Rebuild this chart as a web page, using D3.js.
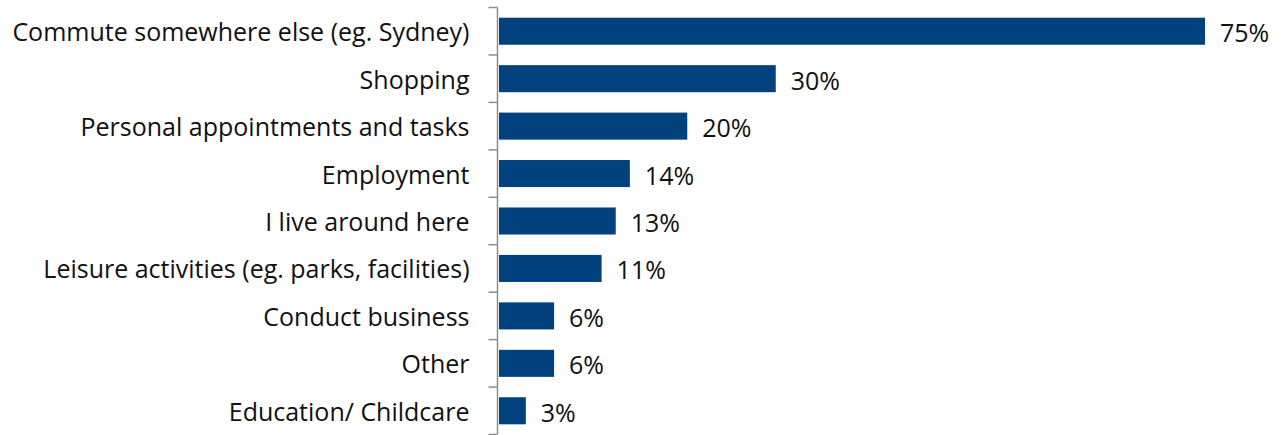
<!DOCTYPE html>
<html><head><meta charset="utf-8">
<script src="https://cdn.jsdelivr.net/npm/d3@7"></script>
<style>body{margin:0;background:#fff;} svg{display:block;font-family:"Open Sans","Noto Sans",sans-serif;}</style>
</head><body>
<svg id="c" width="1282" height="435"></svg>
<script>
const categories = ["Commute somewhere else (eg. Sydney)","Shopping","Personal appointments and tasks","Employment","I live around here","Leisure activities (eg. parks, facilities)","Conduct business","Other","Education/ Childcare"];
const values = [75, 29.4, 20.0, 13.9, 12.4, 10.9, 5.85, 5.85, 2.85];
const valueLabels = ["75%","30%","20%","14%","13%","11%","6%","6%","3%"];

const svg = d3.select("#c");
const x0 = 499;
const x = d3.scaleLinear().domain([0, 75]).range([x0, 1205]);
const y = d3.scaleBand().domain(categories).range([7.5, 434.5]).paddingInner(0.43).paddingOuter(0.215);
const fs = 25;

// bars
svg.selectAll("rect.bar").data(categories).join("rect")
  .attr("x", x(0)).attr("y", d => y(d))
  .attr("width", (d,i) => x(values[i]) - x(0))
  .attr("height", y.bandwidth())
  .attr("fill", "#00417e");

// value labels
svg.selectAll("text.val").data(categories).join("text")
  .attr("x", (d,i) => x(values[i]) + 15)
  .attr("y", d => y(d) + y.bandwidth()/2)
  .attr("dy", "0.44em")
  .attr("font-size", fs).attr("fill", "#111")
  .text((d,i) => valueLabels[i]);

// axis with category labels
const axisX = 497.5;
const ax = svg.append("g").attr("transform", `translate(${axisX},0)`)
  .call(d3.axisLeft(y).tickSize(0).tickPadding(28));
ax.select(".domain").remove();
ax.selectAll("text").attr("font-size", fs).attr("fill", "#111").attr("font-family", '"Open Sans","Noto Sans",sans-serif').attr("dy","0.4em");

// axis line and boundary ticks
const step = y.step();
const r = y.range();
const bounds = d3.range(categories.length + 1).map(i => r[0] + i * step);
svg.append("line").attr("x1", axisX).attr("x2", axisX).attr("y1", r[0]).attr("y2", r[1]).attr("stroke", "#8c8c8c").attr("stroke-width", 1.5);
svg.selectAll("line.tk").data(bounds).join("line")
  .attr("x1", axisX - 9).attr("x2", axisX).attr("y1", d => d).attr("y2", d => d)
  .attr("stroke", "#8c8c8c").attr("stroke-width", 1.5);
</script>
</body></html>
